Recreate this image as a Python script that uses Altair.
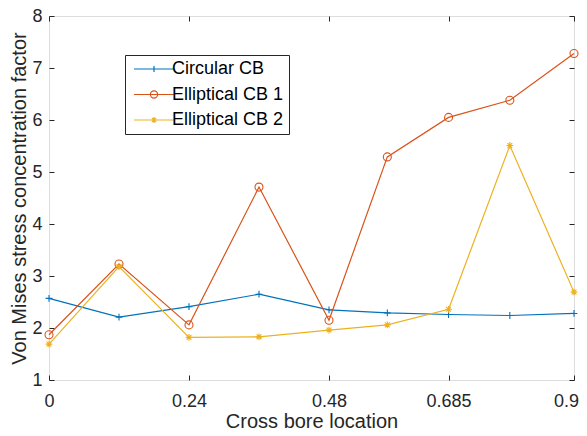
import altair as alt
import pandas as pd

x_loc = [0, 0.12, 0.24, 0.36, 0.48, 0.58, 0.685, 0.79, 0.9]
circular = [2.57, 2.21, 2.41, 2.65, 2.35, 2.29, 2.26, 2.24, 2.28]
ellip1 = [1.87, 3.23, 2.06, 4.71, 2.15, 5.29, 6.05, 6.38, 7.28]
ellip2 = [1.69, 3.18, 1.82, 1.83, 1.96, 2.06, 2.36, 5.51, 2.69]
series_names = ["Circular CB", "Elliptical CB 1", "Elliptical CB 2"]
colors = ["#0072BD", "#D95319", "#EDB120"]
x_ticks = [0, 0.24, 0.48, 0.685, 0.9]
y_ticks = [1, 2, 3, 4, 5, 6, 7, 8]

rows = []
for name, vals in zip(series_names, [circular, ellip1, ellip2]):
    for i, (xv, yv) in enumerate(zip(x_loc, vals)):
        rows.append({"x": xv, "y": yv, "series": name, "series2": name, "order": i})
df = pd.DataFrame(rows)

FONT = "Liberation Sans"
AX = "#262626"

plus_p = "M-0.85,0L0.85,0M0,-0.85L0,0.85"
circ_p = "M-1,0A1,1 0 1,0 1,0A1,1 0 1,0 -1,0"
ast_p = "M-0.85,0L0.85,0M0,-0.85L0,0.85M-0.6,-0.6L0.6,0.6M-0.6,0.6L0.6,-0.6"

leg_plus = "M-5,0L5,0M0,-0.75L0,0.75"
leg_circ = "M-5,0L5,0M-0.9,0A0.9,0.9 0 1,0 0.9,0A0.9,0.9 0 1,0 -0.9,0"
leg_ast = "M-5,0L5,0M0,-0.75L0,0.75M-0.55,-0.55L0.55,0.55M-0.55,0.55L0.55,-0.55"

xscale = alt.Scale(domain=[0, 0.9], nice=False, zero=False)
yscale = alt.Scale(domain=[1, 8], nice=False, zero=False)
cscale = alt.Scale(domain=series_names, range=colors)

common_axis = dict(domain=False, offset=-5, tickSize=5, tickColor=AX, tickWidth=1,
                   labelFont=FONT, labelFontSize=18, labelColor=AX, labelFlush=False,
                   titleFont=FONT, titleFontSize=20, titleColor=AX, titleFontWeight="normal",
                   grid=False)

x_bottom = alt.Axis(orient="bottom", values=x_ticks, labelExpr="format(datum.value, '~g')",
                    title="Cross bore location", labelPadding=12,
                    labelOffset={"condition": {"test": "datum.value >= 0.9", "value": -8}, "value": 0},
                    titleY=52, titleBaseline="alphabetic", **common_axis)
y_left = alt.Axis(orient="left", values=y_ticks, title="Von Mises stress concentration factor",
                  labelPadding=7, titleX=-29, titleY=182, titleBaseline="alphabetic",
                  titleAngle=270, **common_axis)
x_top = alt.Axis(orient="top", values=x_ticks, labels=False, title=None, **common_axis)
y_right = alt.Axis(orient="right", values=y_ticks, labels=False, title=None, **common_axis)

lines = alt.Chart(df).mark_line(strokeWidth=1.2).encode(
    x=alt.X("x:Q", scale=xscale, axis=x_bottom),
    y=alt.Y("y:Q", scale=yscale, axis=y_left),
    color=alt.Color("series:N", scale=cscale, legend=None),
    order="order:Q",
)

points = alt.Chart(df).mark_point(filled=False, size=64, strokeWidth=1.1, opacity=1).encode(
    x=alt.X("x:Q", scale=xscale, axis=x_top),
    y=alt.Y("y:Q", scale=yscale, axis=y_right),
    color=alt.Color("series:N", scale=cscale, legend=None),
    shape=alt.Shape("series:N", scale=alt.Scale(domain=series_names, range=[plus_p, circ_p, ast_p]),
                    legend=None),
)

legend_props = dict(
    title=None, orient="none", legendX=76, legendY=39,
    strokeColor=AX, fillColor="white", padding=5,
    labelFont=FONT, labelFontSize=18, labelColor="black",
    symbolSize=64, symbolOffset=15, labelOffset=9, rowPadding=7.5,
    symbolOpacity=1, symbolStrokeWidth=1.2,
)

leg_layer = alt.Chart(df).mark_point(filled=False, size=64, opacity=0).encode(
    x=alt.X("x:Q", scale=xscale, axis=None),
    y=alt.Y("y:Q", scale=yscale, axis=None),
    color=alt.Color("series2:N", scale=cscale, legend=alt.Legend(**legend_props)),
    shape=alt.Shape("series2:N", scale=alt.Scale(domain=series_names, range=[leg_plus, leg_circ, leg_ast]),
                    legend=alt.Legend(**legend_props)),
)

chart = alt.layer(lines, points, leg_layer).resolve_scale(
    color="independent", shape="independent"
).resolve_axis(x="independent", y="independent").properties(
    width=525, height=364,
    autosize=alt.AutoSizeParams(type="none"),
    padding={"left": 41, "top": 8, "right": 5, "bottom": 48},
).configure_view(stroke=AX, strokeWidth=1).configure(background="white")

chart.save("out.html", embed_options={"renderer": "svg", "actions": False})
